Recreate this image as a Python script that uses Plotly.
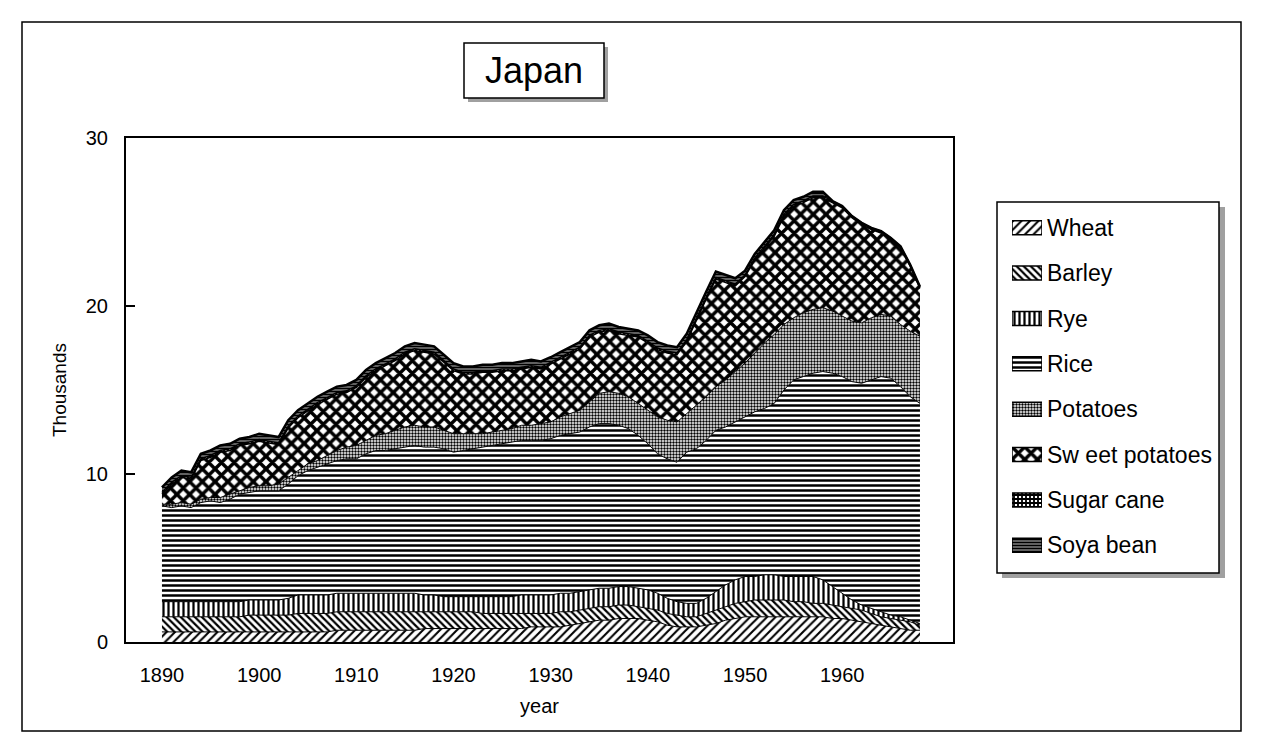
import plotly.graph_objects as go

years = list(range(1890, 1969))

wheat = [0.6,0.6,0.6,0.6,0.6,0.6,0.6,0.6,0.6,0.6,
         0.6,0.6,0.6,0.6,0.6,0.6,0.6,0.6,0.7,0.7,
         0.7,0.7,0.7,0.7,0.7,0.7,0.7,0.8,0.8,0.8,
         0.8,0.8,0.8,0.8,0.8,0.8,0.8,0.8,0.9,0.9,
         0.9,0.9,1.0,1.1,1.2,1.3,1.3,1.4,1.4,1.4,
         1.3,1.2,1.0,0.9,0.9,0.9,1.0,1.1,1.3,1.4,
         1.5,1.5,1.5,1.5,1.5,1.5,1.5,1.5,1.5,1.4,
         1.4,1.3,1.2,1.1,1.0,0.9,0.8,0.7,0.7]
barley = [0.9,0.9,0.9,0.9,0.9,0.9,0.9,0.9,0.9,1.0,
          1.0,1.0,1.0,1.0,1.1,1.1,1.1,1.1,1.1,1.1,
          1.1,1.1,1.1,1.1,1.1,1.1,1.1,1.0,1.0,1.0,
          1.0,1.0,1.0,0.9,0.9,0.9,0.9,0.9,0.8,0.8,
          0.8,0.9,0.8,0.8,0.8,0.8,0.8,0.8,0.8,0.7,
          0.7,0.7,0.7,0.7,0.6,0.6,0.7,0.8,0.8,0.9,
          0.9,1.0,1.0,1.0,1.0,0.9,0.9,0.8,0.8,0.8,
          0.7,0.7,0.7,0.6,0.5,0.5,0.5,0.5,0.3]
rye = [0.9,0.9,0.9,0.9,0.9,0.9,0.9,0.9,0.9,0.9,
       0.9,0.9,0.9,1.0,1.1,1.1,1.1,1.1,1.1,1.1,
       1.1,1.1,1.1,1.1,1.1,1.1,1.1,1.0,1.0,0.9,
       0.9,0.9,0.9,1.0,1.0,1.0,1.0,1.1,1.1,1.1,
       1.1,1.1,1.1,1.1,1.1,1.1,1.1,1.1,1.1,1.1,
       1.1,1.0,0.9,0.8,0.8,0.8,0.9,1.1,1.3,1.4,
       1.5,1.4,1.5,1.5,1.4,1.5,1.5,1.6,1.4,1.1,
       0.8,0.5,0.3,0.3,0.3,0.2,0.2,0.1,0.1]
rice = [5.7,5.6,5.7,5.6,5.9,6.0,5.9,6.1,6.4,6.4,
        6.5,6.5,6.5,6.8,7.1,7.4,7.6,7.8,7.9,8.0,
        8.0,8.3,8.5,8.5,8.6,8.7,8.8,8.8,8.8,8.8,
        8.6,8.7,8.8,8.9,9.0,9.1,9.2,9.2,9.2,9.2,
        9.3,9.4,9.5,9.5,9.7,9.8,9.8,9.6,9.4,9.1,
        8.7,8.3,8.3,8.3,9.0,9.2,9.4,9.6,9.4,9.4,
        9.5,9.8,9.9,10.2,11.1,11.7,11.9,12.1,12.4,12.7,
        12.9,13.0,13.2,13.6,14.0,14.1,13.7,13.3,13.1]
potatoes = [0.1,0.2,0.2,0.2,0.2,0.2,0.3,0.3,0.2,0.3,
            0.3,0.3,0.4,0.4,0.3,0.4,0.4,0.5,0.6,0.7,
            0.8,0.8,0.9,1.0,1.1,1.2,1.2,1.2,1.2,1.1,
            1.1,1.0,0.9,0.8,0.8,0.8,0.8,0.9,0.9,1.0,
            1.0,1.1,1.2,1.3,1.5,1.8,1.9,1.9,1.9,1.9,
            2.0,2.2,2.3,2.4,2.3,2.6,2.6,2.6,2.8,3.0,
            3.2,3.5,3.9,4.1,3.9,3.7,3.8,3.8,3.8,3.7,
            3.6,3.6,3.6,3.7,3.7,3.7,3.7,3.9,4.0]
sweet_potatoes = [0.6,1.2,1.5,1.5,2.3,2.4,2.7,2.6,2.7,2.6,
                  2.65,2.55,2.35,2.95,3.15,3.15,3.35,3.35,3.35,3.25,
                  3.45,3.75,3.85,4.05,4.15,4.35,4.45,4.45,4.35,4.05,
                  3.75,3.55,3.55,3.65,3.55,3.55,3.45,3.35,3.45,3.25,
                  3.45,3.45,3.55,3.65,3.85,3.65,3.65,3.55,3.65,3.95,
                  4.0,4.0,4.0,4.0,4.3,5.1,5.8,6.4,5.8,5.1,
                  5.15,5.55,5.65,5.85,6.45,6.65,6.55,6.65,6.55,6.45,
                  6.45,6.15,5.85,5.25,4.85,4.55,4.55,3.85,2.85]
sugar_cane = [0.10,0.10,0.10,0.10,0.10,0.10,0.10,0.10,0.10,0.10,
              0.10,0.10,0.10,0.10,0.10,0.10,0.10,0.10,0.10,0.10,
              0.10,0.10,0.10,0.10,0.10,0.10,0.10,0.10,0.10,0.10,
              0.10,0.10,0.10,0.10,0.10,0.10,0.10,0.10,0.10,0.10,
              0.10,0.10,0.10,0.10,0.10,0.10,0.10,0.10,0.10,0.10,
              0.10,0.10,0.10,0.10,0.10,0.10,0.10,0.10,0.10,0.10,
              0.10,0.10,0.10,0.10,0.10,0.10,0.10,0.10,0.10,0.10,
              0.10,0.10,0.10,0.10,0.10,0.10,0.10,0.10,0.10]
soya_bean = [0.30,0.30,0.30,0.30,0.30,0.30,0.30,0.30,0.30,0.30,
             0.35,0.35,0.35,0.35,0.35,0.35,0.35,0.35,0.35,0.35,
             0.35,0.35,0.35,0.35,0.35,0.35,0.35,0.35,0.35,0.35,
             0.35,0.35,0.35,0.35,0.35,0.35,0.35,0.35,0.35,0.35,
             0.30,0.30,0.30,0.30,0.30,0.30,0.30,0.30,0.30,0.30,
             0.35,0.35,0.35,0.35,0.35,0.35,0.35,0.35,0.35,0.35,
             0.25,0.25,0.25,0.25,0.25,0.25,0.25,0.25,0.25]

series_names = ["Wheat", "Barley", "Rye", "Rice", "Potatoes",
                "Sweet potatoes", "Sugar cane", "Soya bean"]
legend_labels = ["Wheat", "Barley", "Rye", "Rice", "Potatoes",
                 "Sw eet potatoes", "Sugar cane", "Soya bean"]
series_values = [wheat, barley, rye, rice, potatoes,
                 sweet_potatoes, sugar_cane, soya_bean]
legend_swatch = [1, 1, 1, 1, 1, 1, 1, 1]

x_ticks = [1890, 1900, 1910, 1920, 1930, 1940, 1950, 1960]
y_ticks = [0, 10, 20, 30]

patterns = [
    dict(shape="/", size=6, solidity=0.35),
    dict(shape="\\", size=5, solidity=0.45),
    dict(shape="|", size=5, solidity=0.45),
    dict(shape="-", size=5, solidity=0.5),
    dict(shape=".", size=3, solidity=0.5),
    dict(shape="x", size=9, solidity=0.62),
    dict(shape="+", size=4, solidity=0.7),
    dict(shape="-", size=3, solidity=0.75),
]
line_widths = [1, 1, 1, 1, 1, 1.5, 1.5, 2.5]

FONT = "Liberation Sans, Arial, sans-serif"

# figure is drawn 8px in from the page corner (body margin)
OFF = 8
FW, FH = 1248, 729


def px(x):
    return (x - OFF) / FW


def py(y):
    return 1 - (y - OFF) / FH


# plot area in page pixels
L, R, T, B = 126, 953, 138, 642

fig = go.Figure()
for i, (name, vals) in enumerate(zip(series_names, series_values)):
    p = patterns[i]
    fig.add_trace(go.Scatter(
        x=years, y=vals, name=name, mode="lines",
        stackgroup="one", showlegend=False,
        line=dict(color="black", width=line_widths[i]),
        fillcolor="white",
        fillpattern=dict(shape=p["shape"], size=p["size"], solidity=p["solidity"],
                         fgcolor="black", bgcolor="white", fillmode="replace"),
        hoverinfo="skip", xaxis="x", yaxis="y",
    ))

# legend keys drawn as patterned swatches
for i, (lab, sw) in enumerate(zip(legend_labels, legend_swatch)):
    p = patterns[i]
    fig.add_trace(go.Bar(
        x=[sw], y=[lab], orientation="h", showlegend=False,
        width=0.31,
        marker=dict(color="white", line=dict(color="black", width=1.5),
                    pattern=dict(shape=p["shape"], size=p["size"],
                                 solidity=p["solidity"], fgcolor="black",
                                 bgcolor="white", fillmode="replace")),
        hoverinfo="skip", xaxis="x2", yaxis="y2",
    ))

shapes = [
    # outer frame
    dict(type="rect", xref="paper", yref="paper",
         x0=px(22), x1=px(1241), y0=py(731), y1=py(22),
         line=dict(color="black", width=1.5), fillcolor="rgba(0,0,0,0)", layer="below"),
    # title box shadow
    dict(type="rect", xref="paper", yref="paper",
         x0=px(468), x1=px(608), y0=py(102), y1=py(47),
         line=dict(width=0), fillcolor="#a0a0a0", layer="below"),
    # title box
    dict(type="rect", xref="paper", yref="paper",
         x0=px(464), x1=px(604), y0=py(98), y1=py(43),
         line=dict(color="black", width=1.5), fillcolor="white", layer="below"),
    # legend shadow
    dict(type="rect", xref="paper", yref="paper",
         x0=px(1002), x1=px(1225), y0=py(578), y1=py(207),
         line=dict(width=0), fillcolor="#a0a0a0", layer="below"),
    # legend box
    dict(type="rect", xref="paper", yref="paper",
         x0=px(997), x1=px(1219), y0=py(573), y1=py(202),
         line=dict(color="black", width=1.5), fillcolor="white", layer="below"),
]

fig.update_layout(
    width=FW, height=FH,
    margin=dict(l=0, r=0, t=0, b=0, pad=0),
    paper_bgcolor="white", plot_bgcolor="rgba(0,0,0,0)",
    font=dict(family=FONT, color="black", size=20),
    showlegend=False,
    barmode="overlay",
    xaxis=dict(
        domain=[px(L), px(R)],
        range=[1886.3, 1971.4], tickmode="array", tickvals=x_ticks,
        ticktext=[str(v) for v in x_ticks], ticks="", showgrid=False,
        zeroline=False, showline=True, linecolor="black", linewidth=2, mirror=True,
        tickfont=dict(size=20), ticklabelstandoff=14, automargin=False,
        title=dict(text="year", font=dict(size=20), standoff=14),
    ),
    yaxis=dict(
        domain=[py(B), py(T)],
        range=[0, 30], tickmode="array", tickvals=y_ticks,
        ticks="inside", ticklen=9, tickwidth=2, tickcolor="black", showgrid=False,
        zeroline=False, showline=True, linecolor="black", linewidth=2, mirror=True,
        tickfont=dict(size=20), ticklabelstandoff=12, automargin=False,
        title=dict(text="Thousands", font=dict(size=19), standoff=14),
    ),
    xaxis2=dict(
        domain=[px(1012), px(1042)], range=[0, 1], anchor="y2",
        visible=False, fixedrange=True,
    ),
    yaxis2=dict(
        domain=[py(568), py(205)], anchor="x2", side="right",
        type="category", categoryorder="array", categoryarray=legend_labels,
        autorange="reversed", showgrid=False, zeroline=False, showline=False,
        ticks="", tickfont=dict(size=23), ticklabelstandoff=4,
        fixedrange=True, automargin=False,
    ),
    shapes=shapes,
    annotations=[dict(
        xref="paper", yref="paper", x=px(534), y=py(71), text="Japan",
        showarrow=False, font=dict(family=FONT, size=36, color="black"),
        xanchor="center", yanchor="middle",
    )],
)

fig.write_html("out.html")
